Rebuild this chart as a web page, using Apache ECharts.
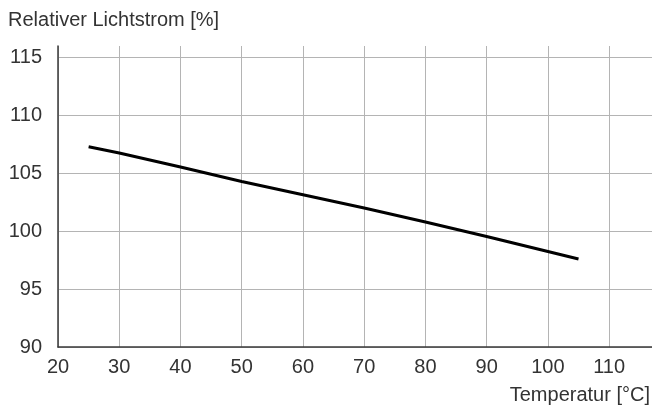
<!DOCTYPE html>
<html><head><meta charset="utf-8">
<script src="https://cdn.jsdelivr.net/npm/echarts@6/dist/echarts.min.js"></script>
<style>html,body{margin:0;padding:0;background:#fff}#c{width:652px;height:405px}</style>
</head><body><div id="c"></div>
<script>
var temperature = [25, 30, 40, 50, 60, 70, 80, 90, 100, 105];
var luminousFlux = [107.3, 106.75, 105.55, 104.3, 103.15, 102.0, 100.8, 99.55, 98.25, 97.6];
var yTitle = 'Relativer Lichtstrom [%]';
var xTitle = 'Temperatur [°C]';
var FONT = '"Liberation Sans", Arial, Helvetica, sans-serif';

var chart = echarts.init(document.getElementById('c'));
var gridColor = '#b4b4b4';
chart.setOption({
  animation: false,
  grid: {left: 58, top: 46, right: 0, bottom: 58, containLabel: false},
  xAxis: {
    type: 'value', min: 20, max: 117, interval: 10,
    axisLine: {show: true, lineStyle: {color: '#3a3a3a', width: 1.5}},
    axisTick: {show: false},
    axisLabel: {color: '#333', fontSize: 20, fontFamily: FONT, margin: 10, showMaxLabel: false},
    splitLine: {show: true, lineStyle: {color: [gridColor, gridColor, gridColor, gridColor, gridColor, gridColor, gridColor, gridColor, gridColor, gridColor, 'rgba(0,0,0,0)'], width: 1}}
  },
  yAxis: {
    type: 'value', min: 90, max: 116, interval: 5,
    axisLine: {show: true, lineStyle: {color: '#3a3a3a', width: 1.5}},
    axisTick: {show: false},
    axisLabel: {color: '#333', fontSize: 20, fontFamily: FONT, margin: 16, showMaxLabel: false},
    splitLine: {show: true, lineStyle: {color: [gridColor, gridColor, gridColor, gridColor, gridColor, gridColor, 'rgba(0,0,0,0)'], width: 1}}
  },
  graphic: [
    {type: 'text', left: 8, top: 10, style: {text: yTitle, fill: '#333', font: '20px ' + FONT}},
    {type: 'text', right: 2, top: 385, style: {text: xTitle, fill: '#333', font: '20px ' + FONT}}
  ],
  series: [{
    type: 'line',
    data: temperature.map(function (t, i) { return [t, luminousFlux[i]]; }),
    showSymbol: false,
    smooth: false,
    lineStyle: {color: '#000', width: 3},
    z: 5
  }]
});
</script></body></html>
